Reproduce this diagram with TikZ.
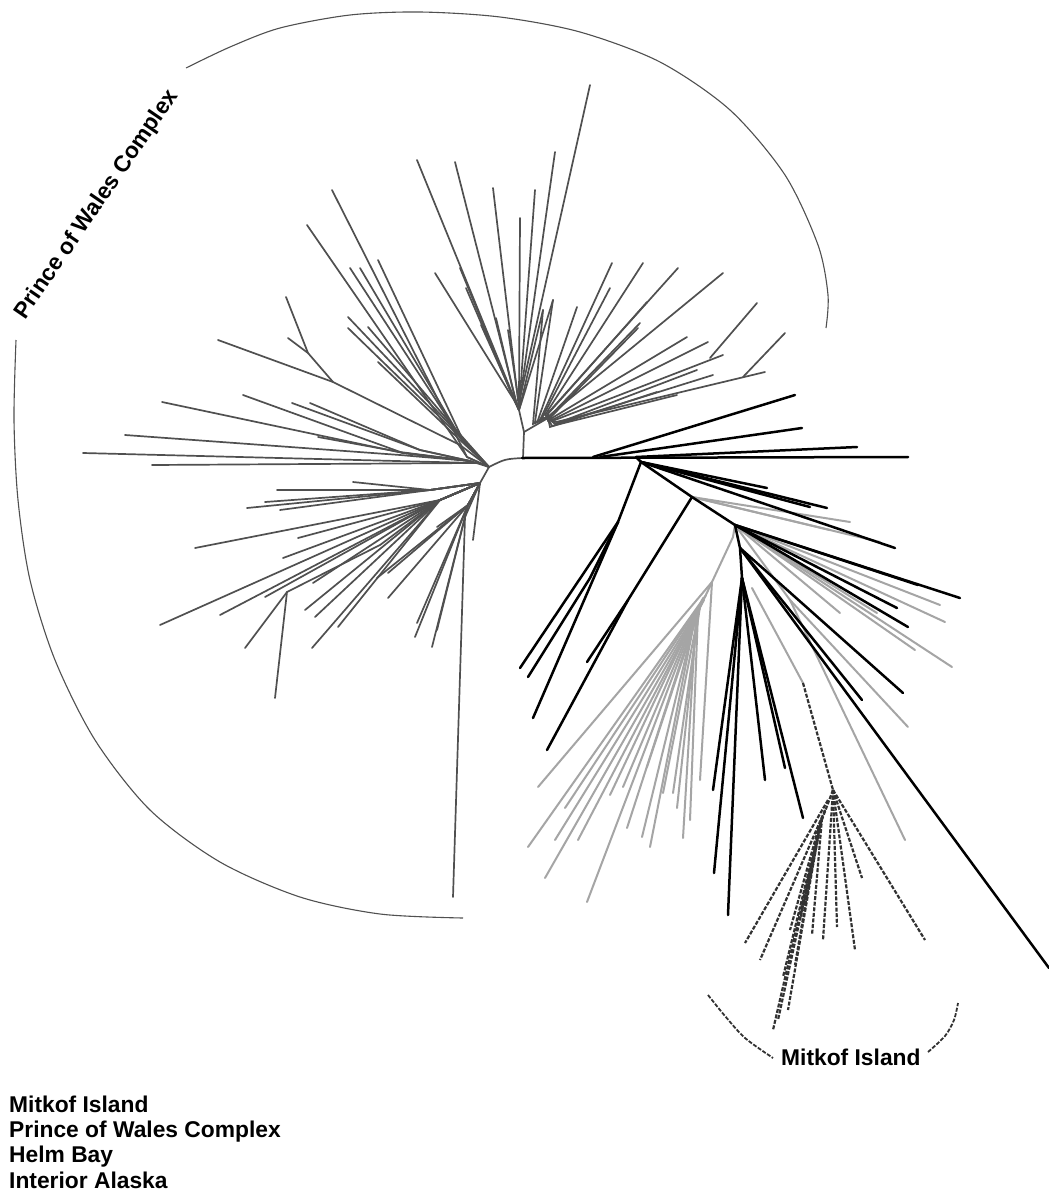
\documentclass[tikz,border=0pt]{standalone}
\usepackage{fontspec}
\setmainfont{Liberation Sans}
\definecolor{powgray}{RGB}{80,80,80}
\definecolor{helmgray}{RGB}{165,165,165}
\definecolor{mitgray}{RGB}{50,50,50}
\tikzset{
  pow/.style={draw=powgray, line width=1.7pt, line cap=round},
  helm/.style={draw=helmgray, line width=2pt, line cap=round},
  inter/.style={draw=black, line width=2.5pt, line cap=round},
  mit/.style={draw=mitgray, line width=2.2pt, dash pattern=on 4pt off 1.6pt},
  arcline/.style={draw=powgray, line width=1.1pt},
  mitarc/.style={draw=mitgray, line width=1.8pt, dash pattern=on 4pt off 1.6pt},
  lbl/.style={font=\bfseries\fontsize{22.8}{27}\selectfont, inner sep=0pt}
}
\begin{document}
\begin{tikzpicture}[x=1pt,y=-1pt]
\useasboundingbox (0,0) rectangle (1049,1194);
\fill[white] (0,0) rectangle (1049,1194);
% ---------------- Prince of Wales Complex (dark grey) ----------------
\coordinate (P0) at (489,467);
\coordinate (PS) at (523,458);
\coordinate (PU) at (524,432);
\coordinate (PUL) at (519,410);
\coordinate (PUR) at (548,418);
\coordinate (PL) at (470,461);
\coordinate (L1) at (480,483);
\draw[pow] (P0) .. controls (505,459) .. (PS) -- (PU);
\draw[pow] (PU) -- (PUL);
\draw[pow] (PU) -- (PUR);
% upper-left fan
\foreach \sx/\sy/\ex/\ey in {519/410/417/160, 517/405/455/162, 514/400/435/273,
  511/392/460/268, 510/390/466/288, 513/396/481/325, 515/398/496/318,
  518/400/493/188, 519/398/520/218, 520/395/535/190, 521/392/555/152,
  520/398/590/85, 521/402/543/310, 521/404/553/300, 519/404/508/330}
  \draw[pow] (PUL) -- (\sx,\sy) -- (\ex,\ey);
% upper-right fan
\foreach \sx/\sy/\ex/\ey in {540/420/612/263, 545/415/643/263, 548/413/678/268,
  550/415/723/273, 546/416/647/302, 548/418/640/323, 548/420/638/328,
  552/418/687/337, 552/420/708/342, 555/420/723/355, 556/422/765/372,
  556/424/713/375, 555/424/697/370, 552/426/677/395, 550/427/657/392,
  542/418/610/288, 538/420/577/307, 535/422/553/300, 533/424/543/310}
  \draw[pow] (PUR) -- (\sx,\sy) -- (\ex,\ey);
\draw[pow] (710,358) -- (757,303);
\draw[pow] (743,377) -- (785,333);
% left fans
\draw[pow] (P0) -- (PL);
\draw[pow] (P0) -- (460,445) -- (333,382) -- (218,340);
\draw[pow] (333,382) -- (308,353) -- (286,297);
\draw[pow] (308,353) -- (288,338);
\foreach \sx/\sy/\ex/\ey in {467/457/332/190, 467/457/307/225, 462/440/350/268,
  462/440/360/268, 462/438/378/260, 455/430/348/317, 455/432/348/328,
  458/432/368/327, 460/440/378/362}
  \draw[pow] (P0) -- (\sx,\sy) -- (\ex,\ey);
\foreach \sx/\sy/\ex/\ey in {475/463/83/453, 475/463/152/465, 403/453/162/402,
  403/453/243/395, 420/450/292/403, 420/450/310/403, 400/452/318/437,
  400/455/125/435}
  \draw[pow] (PL) -- (\sx,\sy) -- (\ex,\ey);
% lower-left fan
\draw[pow] (P0) -- (L1);
\foreach \ex/\ey in {277/490, 353/482, 247/508, 265/502, 280/510}
  \draw[pow] (L1) -- (430,490) -- (\ex,\ey);
\foreach \ex/\ey in {195/548, 298/538, 283/558, 160/625, 220/615, 265/597,
  313/583, 305/610, 315/617, 338/627, 312/648}
  \draw[pow] (L1) -- (440,500) -- (\ex,\ey);
\draw[pow] (440,500) -- (380,545) -- (287,592) -- (245,648);
\draw[pow] (287,592) -- (275,698);
\foreach \ex/\ey in {377/578, 388/573, 388/598, 415/637, 432/647, 437/527, 417/623, 437/630}
  \draw[pow] (L1) -- (468,505) -- (\ex,\ey);
\draw[pow] (L1) -- (473,540);
\draw[pow] (L1) -- (465,517) -- (453,897);
% ---------------- Helm Bay (light grey) ----------------
\coordinate (H0) at (692,497);
\coordinate (H1) at (735,525);
\coordinate (G1) at (712,582);
\coordinate (G2) at (695,618);
\draw[helm] (H1) -- (733,537) -- (G1);
\draw[helm] (G1) -- (538,787);
\draw[helm] (G1) -- (700,780);
\draw[helm] (G1) -- (G2);
\foreach \sx/\sy/\ex/\ey in {706/595/528/847, 704/600/545/878, 702/603/555/840,
  703/600/565/808, 700/607/578/840, 698/610/587/902, 700/605/610/795,
  702/600/623/787, 697/612/627/828, 696/615/642/837, 695/618/650/847,
  703/598/647/767, 700/606/663/793, 700/606/673/793, 698/612/677/808,
  696/618/683/838, 698/612/690/820}
  \draw[helm] (\sx,\sy) -- (\ex,\ey);
\foreach \ex/\ey in {940/605, 945/622, 952/667, 915/650, 877/613, 840/613}
  \draw[helm] (H1) -- (\ex,\ey);
\draw[helm] (H1) -- (790,600) -- (908,727);
\draw[helm] (790,600) -- (905,840);
\draw[helm] (752,588) -- (803,683);
\foreach \ex/\ey in {850/522, 880/542, 830/530}
  \draw[helm] (H0) -- (\ex,\ey);
% ---------------- Interior Alaska (black) ----------------
\coordinate (B0) at (522,458);
\coordinate (I1) at (641,462);
\coordinate (I2) at (618,522);
\draw[inter] (B0) -- (908,457);
\draw[inter] (593,457) -- (795,395);
\draw[inter] (600,457) -- (802,428);
\draw[inter] (636,457) -- (857,447);
\draw[inter] (636,457) -- (I1);
\foreach \ex/\ey in {767/488, 810/507, 827/508, 895/548}
  \draw[inter] (I1) -- (\ex,\ey);
\draw[inter] (I1) -- (H0) -- (H1);
\draw[inter] (I1) -- (I2) -- (520,668);
\draw[inter] (I2) -- (533,718);
\draw[inter] (I2) -- (590,578) -- (528,677);
\draw[inter] (H0) -- (628,600) -- (547,750);
\draw[inter] (628,600) -- (587,662);
\foreach \ex/\ey in {918/585, 960/598, 897/608, 908/627}
  \draw[inter] (H1) -- (\ex,\ey);
\draw[inter] (H1) -- (740,548);
\foreach \ex/\ey in {903/693, 862/700, 1049/968}
  \draw[inter] (740,548) -- (\ex,\ey);
\draw[inter] (740,548) -- (742,578);
\foreach \ex/\ey in {713/790, 714/873, 728/915, 765/780, 785/768, 803/818}
  \draw[inter] (742,578) -- (\ex,\ey);
% ---------------- Mitkof Island (dashed) ----------------
\coordinate (M0) at (803,683);
\coordinate (M1) at (833,790);
\coordinate (M2) at (818,830);
\draw[mit] (M0) -- (M1);
\foreach \ex/\ey in {925/940, 862/878, 855/950, 837/927, 823/940}
  \draw[mit] (M1) -- (\ex,\ey);
\draw[mit] (M1) -- (M2);
\foreach \sx/\sy/\ex/\ey in {828/800/745/943, 825/810/760/960, 822/818/773/1030,
  822/818/778/1020, 820/825/788/1010, 820/825/783/977, 818/830/795/965,
  818/830/790/930, 820/825/800/920, 822/818/805/905, 822/818/812/935}
  \draw[mit] (\sx,\sy) -- (\ex,\ey);
% ---------------- arcs and labels ----------------
\draw[arcline] plot[smooth] coordinates {(186,68) (230,47) (280,28) (350,15)
  (420,12) (500,17) (580,32) (660,62) (730,110) (785,175) (818,245) (828,295) (826,328)};
\draw[arcline] plot[smooth] coordinates {(16,340) (14,420) (18,500) (30,580)
  (55,660) (95,740) (150,810) (220,862) (300,897) (380,914) (463,918)};
\draw[mitarc] plot[smooth] coordinates {(708,995) (725,1016) (745,1038) (773,1058)};
\draw[mitarc] plot[smooth] coordinates {(928,1052) (945,1036) (954,1020) (958,1003)};
\node[lbl, anchor=base, rotate=55.6] (powlabel) at (102,208) {Prince of Wales Complex};
\node[lbl, anchor=base west] (mitlabel) at (781,1065) {Mitkof Island};
\node[lbl, anchor=base west] (leg1) at (9,1112) {Mitkof Island};
\node[lbl, anchor=base west] (leg2) at (9,1137) {Prince of Wales Complex};
\node[lbl, anchor=base west] (leg3) at (9,1162) {Helm Bay};
\node[lbl, anchor=base west] (leg4) at (9,1188) {Interior Alaska};
\end{tikzpicture}
\end{document}
